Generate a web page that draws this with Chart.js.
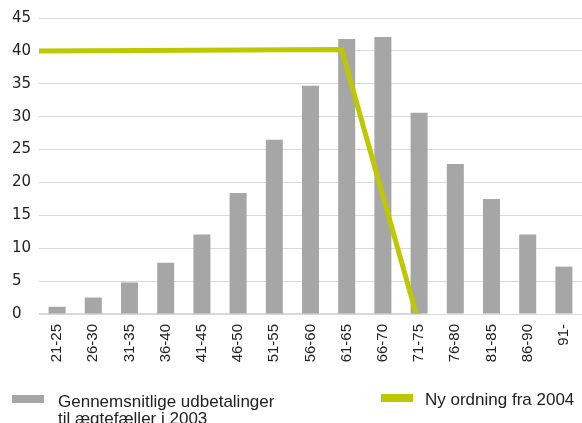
<!DOCTYPE html>
<html>
<head>
<meta charset="utf-8">
<script src="https://cdn.jsdelivr.net/npm/chart.js@4/dist/chart.umd.min.js"></script>
<style>
  body { margin: 0; background: #fff; }
  #wrap { position: relative; width: 582px; height: 423px; }
  .leg { position: absolute; font-family: "Liberation Sans", Arial, sans-serif; font-size: 17px; line-height: 17px; color: #222; }
  .box { position: absolute; width: 32px; height: 8px; }
</style>
</head>
<body>
<div id="wrap">
  <canvas id="chart_udbetaling" width="582" height="423"></canvas>
  <div class="box" style="left:12px; top:395px; background:#a6a6a6"></div>
  <div class="leg" style="left:58px; top:393px">Gennemsnitlige udbetalinger<br>til ægtefæller i 2003</div>
  <div class="box" style="left:381px; top:394px; background:#bdc800"></div>
  <div class="leg" style="left:425px; top:391px">Ny ordning fra 2004</div>
</div>
<script>
// age groups on the x axis
var ageGroups = ["21-25","26-30","31-35","36-40","41-45","46-50","51-55","56-60","61-65","66-70","71-75","76-80","81-85","86-90","91-"];
// average payments 2003
var payments2003 = [1.1, 2.5, 4.8, 7.8, 12.1, 18.4, 26.5, 34.7, 41.8, 42.1, 30.6, 22.8, 17.5, 12.1, 7.2];
// new scheme from 2004 (age, value)
var newAges = [20.5, 62.3, 72.6];
var newValues = [40, 40.2, 0];
// thin zero part of the new scheme
var zeroAges = [20.5, 73.5];
var zeroValues = [0, 0];
var yTicks = [0, 5, 10, 15, 20, 25, 30, 35, 40, 45];

var green = '#bdc800';

function toPoints(xs, ys) {
    var pts = [];
    xs.forEach(function (x, i) { pts.push({x: x, y: ys[i]}); });
    return pts;
}

var ctx = document.getElementById('chart_udbetaling').getContext('2d');
var chart = new Chart(ctx, {
    type: 'bar',
    data: {
        labels: ageGroups,
        datasets: [{
            type: 'line',
            label: 'Ny ordning fra 2004',
            xAxisID: 'xAge',
            data: toPoints(newAges, newValues),
            borderColor: green,
            borderWidth: 5,
            borderCapStyle: 'round',
            borderJoinStyle: 'miter',
            pointRadius: 0,
            tension: 0,
            order: 0
        }, {
            type: 'line',
            label: 'zero',
            xAxisID: 'xAge',
            data: toPoints(zeroAges, zeroValues),
            borderColor: green,
            borderWidth: 1.2,
            pointRadius: 0,
            order: 1
        }, {
            label: 'Gennemsnitlige udbetalinger til ægtefæller i 2003',
            xAxisID: 'x',
            data: payments2003,
            backgroundColor: '#a6a6a6',
            grouped: false, // keep bars centred and full width
            barPercentage: 0.47,
            categoryPercentage: 1,
            order: 2
        }]
    },
    options: {
        responsive: false,
        animation: false,
        layout: { padding: { left: 12, top: 18, right: 0, bottom: 0 } },
        plugins: { legend: { display: false }, tooltip: { enabled: false } },
        scales: {
            x: {
                grid: { display: false, drawTicks: false },
                border: { display: false },
                ticks: {
                    minRotation: 90, maxRotation: 90, padding: 10,
                    color: '#222',
                    font: { family: '"Liberation Sans", Arial, sans-serif', size: 15 }
                },
                afterFit: function (scale) {
                    scale.height = 109;
                    scale.paddingLeft = 0;
                    scale.paddingRight = 0;
                }
            },
            xAge: {
                type: 'linear', display: false, offset: false, min: 20.5, max: 95.5
            },
            y: {
                min: 0, max: 45,
                afterBuildTicks: function (scale) {
                    scale.ticks = yTicks.map(function (v) { return {value: v}; });
                },
                grid: { color: '#d9d9d9', lineWidth: 1, drawTicks: false },
                border: { display: false },
                ticks: {
                    crossAlign: 'far',
                    color: '#222',
                    font: { family: '"DejaVu Sans", Verdana, sans-serif', size: 15 }
                },
                afterFit: function (scale) { scale.width = 27; }
            }
        }
    }
});
</script>
</body>
</html>
